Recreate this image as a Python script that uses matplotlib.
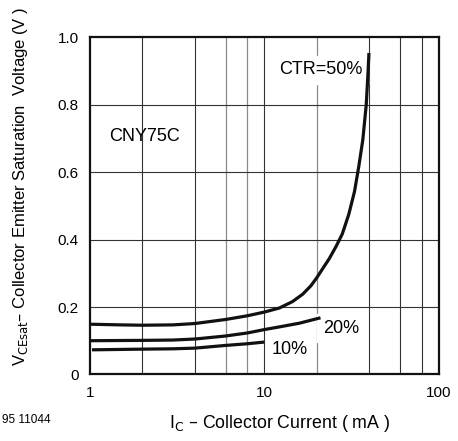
import matplotlib
matplotlib.use('Agg')
import matplotlib.pyplot as plt

plt.rcParams['font.family'] = ['Liberation Sans', 'DejaVu Sans']

# CTR = 50 %
ic_50 = [1, 1.5, 2, 3, 4, 6, 8, 10, 12.2, 14.5, 16.6, 18.5, 20, 21.5, 23.6, 25.8, 28.0,
         30.5, 32.9, 34.8, 36.7, 38.4, 39.3, 39.8]
vce_50 = [0.149, 0.147, 0.146, 0.147, 0.151, 0.163, 0.174, 0.185, 0.197, 0.216, 0.238,
          0.263, 0.287, 0.312, 0.344, 0.380, 0.417, 0.475, 0.543, 0.617, 0.696, 0.800,
          0.894, 0.954]
# CTR = 20 %
ic_20 = [1, 2, 3, 4, 6, 8, 10, 12.5, 15.9, 21]
vce_20 = [0.100, 0.101, 0.102, 0.105, 0.114, 0.123, 0.133, 0.142, 0.152, 0.168]
# CTR = 10 %
ic_10 = [1.03, 2, 3, 4, 6, 8, 10]
vce_10 = [0.073, 0.075, 0.076, 0.078, 0.086, 0.091, 0.096]

x_ticks = [1, 10, 100]
x_ticklabels = ['1', '10', '100']
y_ticks = [0, 0.2, 0.4, 0.6, 0.8, 1.0]
y_ticklabels = ['0', '0.2', '0.4', '0.6', '0.8', '1.0']
grid_dark = [2, 4, 10, 40, 60, 80]
grid_light = [6, 8, 20]

fig = plt.figure(figsize=(4.58, 4.41), dpi=100)
ax = fig.add_axes([0.196, 0.151, 0.762, 0.764])

# grid drawn by hand so single lines can be lighter
for gx in grid_dark:
    ax.axvline(gx, color='#333333', lw=0.8, zorder=1)
for gx in grid_light:
    ax.axvline(gx, color='#8a8a8a', lw=0.9, zorder=1)
for gy in y_ticks[1:-1]:
    ax.axhline(gy, color='#333333', lw=0.8, zorder=1)

for xs, ys in [(ic_50, vce_50), (ic_20, vce_20), (ic_10, vce_10)]:
    ax.plot(xs, ys, color='#111111', lw=2.3, solid_capstyle='butt',
            solid_joinstyle='round', zorder=3)

ax.set_xscale('log')
ax.set_xlim(1, 100)
ax.set_ylim(0, 1.0)
ax.set_xticks(x_ticks)
ax.set_xticklabels(x_ticklabels)
ax.minorticks_off()
ax.set_yticks(y_ticks)
ax.set_yticklabels(y_ticklabels)
ax.tick_params(length=0, labelsize=11, pad=8)
for s in ax.spines.values():
    s.set_linewidth(1.6)
    s.set_color('#111111')

ax.text(12.1, 0.904, 'CTR=50%', fontsize=13, va='center', ha='left',
        backgroundcolor='white', zorder=2)
ax.text(1.29, 0.706, 'CNY75C', fontsize=13, va='center', ha='left', zorder=2)
ax.text(21.6, 0.137, '20%', fontsize=13, va='center', ha='left',
        backgroundcolor='white', zorder=2)
ax.text(11.07, 0.075, '10%', fontsize=13, va='center', ha='left',
        backgroundcolor='white', zorder=2)

fig.text(280 / 458, 1 - 424 / 441, 'I$_\\mathrm{C}$ – Collector Current ( mA )',
         fontsize=12.8, ha='center', va='center')
fig.text(21 / 458, 1 - 186 / 441,
         'V$_\\mathrm{CEsat}$– Collector Emitter Saturation  Voltage (V )',
         fontsize=12, ha='center', va='center', rotation=90)
fig.text(2 / 458, 1 - 420 / 441, '95 11044', fontsize=8.5, ha='left', va='center')

fig.savefig('out.png', dpi=100)
